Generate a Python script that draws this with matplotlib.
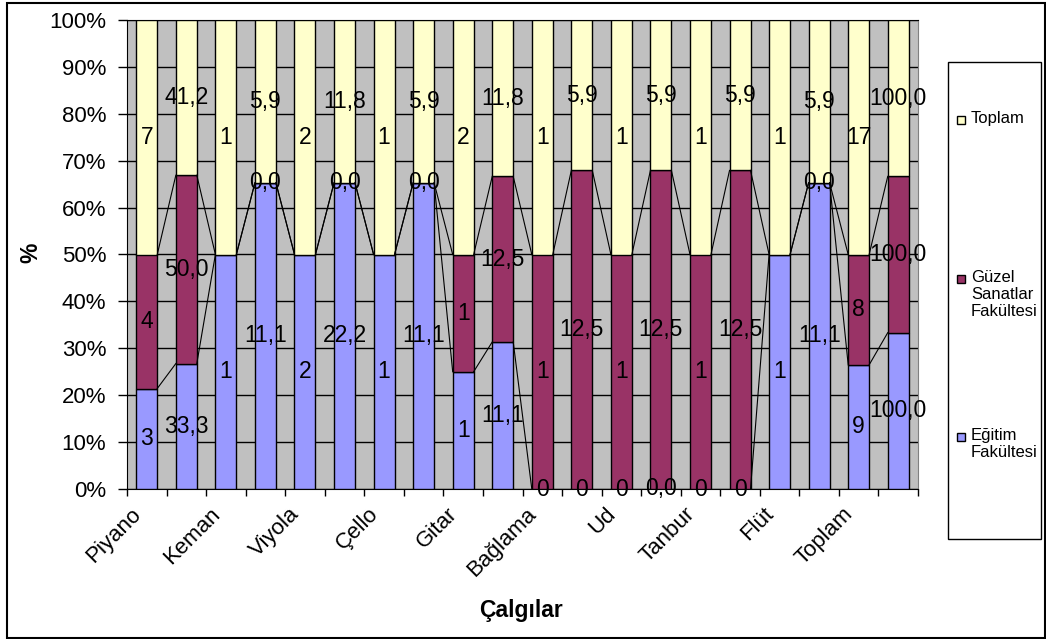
import matplotlib.pyplot as plt
import numpy as np
from matplotlib.patches import Rectangle
from matplotlib.transforms import offset_copy

plt.rcParams['font.family'] = ['Liberation Sans', 'DejaVu Sans']

# every instrument has two bars: the count and the percentage
categories = ["Piyano", "Keman", "Viyola", "Çello", "Gitar",
              "Bağlama", "Ud", "Tanbur", "Flüt", "Toplam"]

# values as printed in the cells (blank = no value)
egitim = ["3", "33,3", "1", "11,1", "2", "22,2", "1", "11,1", "1", "11,1",
          "0", "0", "0", "0,0", "0", "0", "1", "11,1", "9", "100,0"]
guzel = ["4", "50,0", "", "0,0", "", "0,0", "", "0,0", "1", "12,5",
         "1", "12,5", "1", "12,5", "1", "12,5", "", "0,0", "8", "100,0"]
toplam = ["7", "41,2", "1", "5,9", "2", "11,8", "1", "5,9", "2", "11,8",
          "1", "5,9", "1", "5,9", "1", "5,9", "1", "5,9", "17", "100,0"]

series = [("Eğitim\nFakültesi", egitim, "#9999FF"),
          ("Güzel\nSanatlar\nFakültesi", guzel, "#993366"),
          ("Toplam", toplam, "#FFFFCC")]


def to_num(s):
    return float(s.replace(",", ".")) if s else 0.0


vals = np.array([[to_num(s) for s in lab] for _, lab, _ in series])
pct = vals / vals.sum(axis=0) * 100
x = np.arange(len(egitim))
w = 0.53

fig = plt.figure(figsize=(10.46, 6.39), dpi=100)
ax = fig.add_axes([127 / 1046, 1 - 489 / 639, 791 / 1046, 469 / 639])
ax.set_facecolor("#C0C0C0")

bottom = np.zeros(len(x))
tops = []
for (name, labels, color), p in zip(series, pct):
    ax.bar(x, p, w, bottom=bottom, color=color, edgecolor="black",
           linewidth=1, zorder=3)
    for xi, b, h, s in zip(x, bottom, p, labels):
        if s:
            ax.text(xi, b + h / 2, s, ha="center", va="center",
                    fontsize=16.5, zorder=5, clip_on=False)
    bottom = bottom + p
    tops.append(bottom.copy())

# series lines between neighbouring bars
for cum in tops[:2]:
    for i in range(len(x) - 1):
        ax.plot([x[i] + w / 2, x[i + 1] - w / 2], [cum[i], cum[i + 1]],
                color="black", lw=0.8, zorder=4)

ax.set_xlim(-0.5, len(x) - 0.5)
ax.set_ylim(0, 100)
ax.set_yticks(np.arange(0, 101, 10))
ax.set_yticklabels([f"{v}%" for v in range(0, 101, 10)], fontsize=16)
ax.yaxis.grid(True, color="black", lw=1, zorder=1)
ax.set_axisbelow(True)
ax.tick_params(axis="y", direction="out", length=6.5, width=1, pad=8.5)

ax.set_xticks(np.arange(-0.5, len(x), 1))
ax.set_xticklabels([])
ax.tick_params(axis="x", direction="out", length=5, width=1)

tr = offset_copy(ax.get_xaxis_transform(), fig=fig, x=-9, y=-22, units="dots")
for i, c in enumerate(categories):
    ax.text(2 * i, 0, c, transform=tr, rotation=45, rotation_mode="anchor",
            ha="right", va="center", fontsize=16)

for s in ["left", "bottom", "top"]:
    ax.spines[s].set_color("black")
ax.spines["right"].set_color("#808080")

fig.text(521 / 1046, 1 - 610 / 639, "Çalgılar", ha="center", va="center",
         fontsize=16.5, fontweight="bold")
fig.text(31 / 1046, 1 - 253 / 639, "%", ha="center", va="center",
         rotation=90, fontsize=16.5, fontweight="bold")


def px(xp, yp):
    return xp / 1046, 1 - yp / 639


# legend box drawn by hand
fig.add_artist(Rectangle(px(948, 539), 93 / 1046, 477 / 639,
                         transform=fig.transFigure, facecolor="white",
                         edgecolor="black", lw=1))
legend_y = [437, 279, 120]
for (name, _, color), ly in zip(series, legend_y):
    fig.add_artist(Rectangle(px(957, ly + 4), 8 / 1046, 8 / 639,
                             transform=fig.transFigure, facecolor=color,
                             edgecolor="black", lw=1))
    fig.text(*px(971, ly - 9), name, ha="left", va="top", fontsize=12,
             linespacing=1.15)

# outer frame
fig.add_artist(Rectangle(px(7, 638), 1038 / 1046, 635 / 639,
                         transform=fig.transFigure, fill=False,
                         edgecolor="black", lw=1.5))

fig.savefig("out.png", dpi=100)
